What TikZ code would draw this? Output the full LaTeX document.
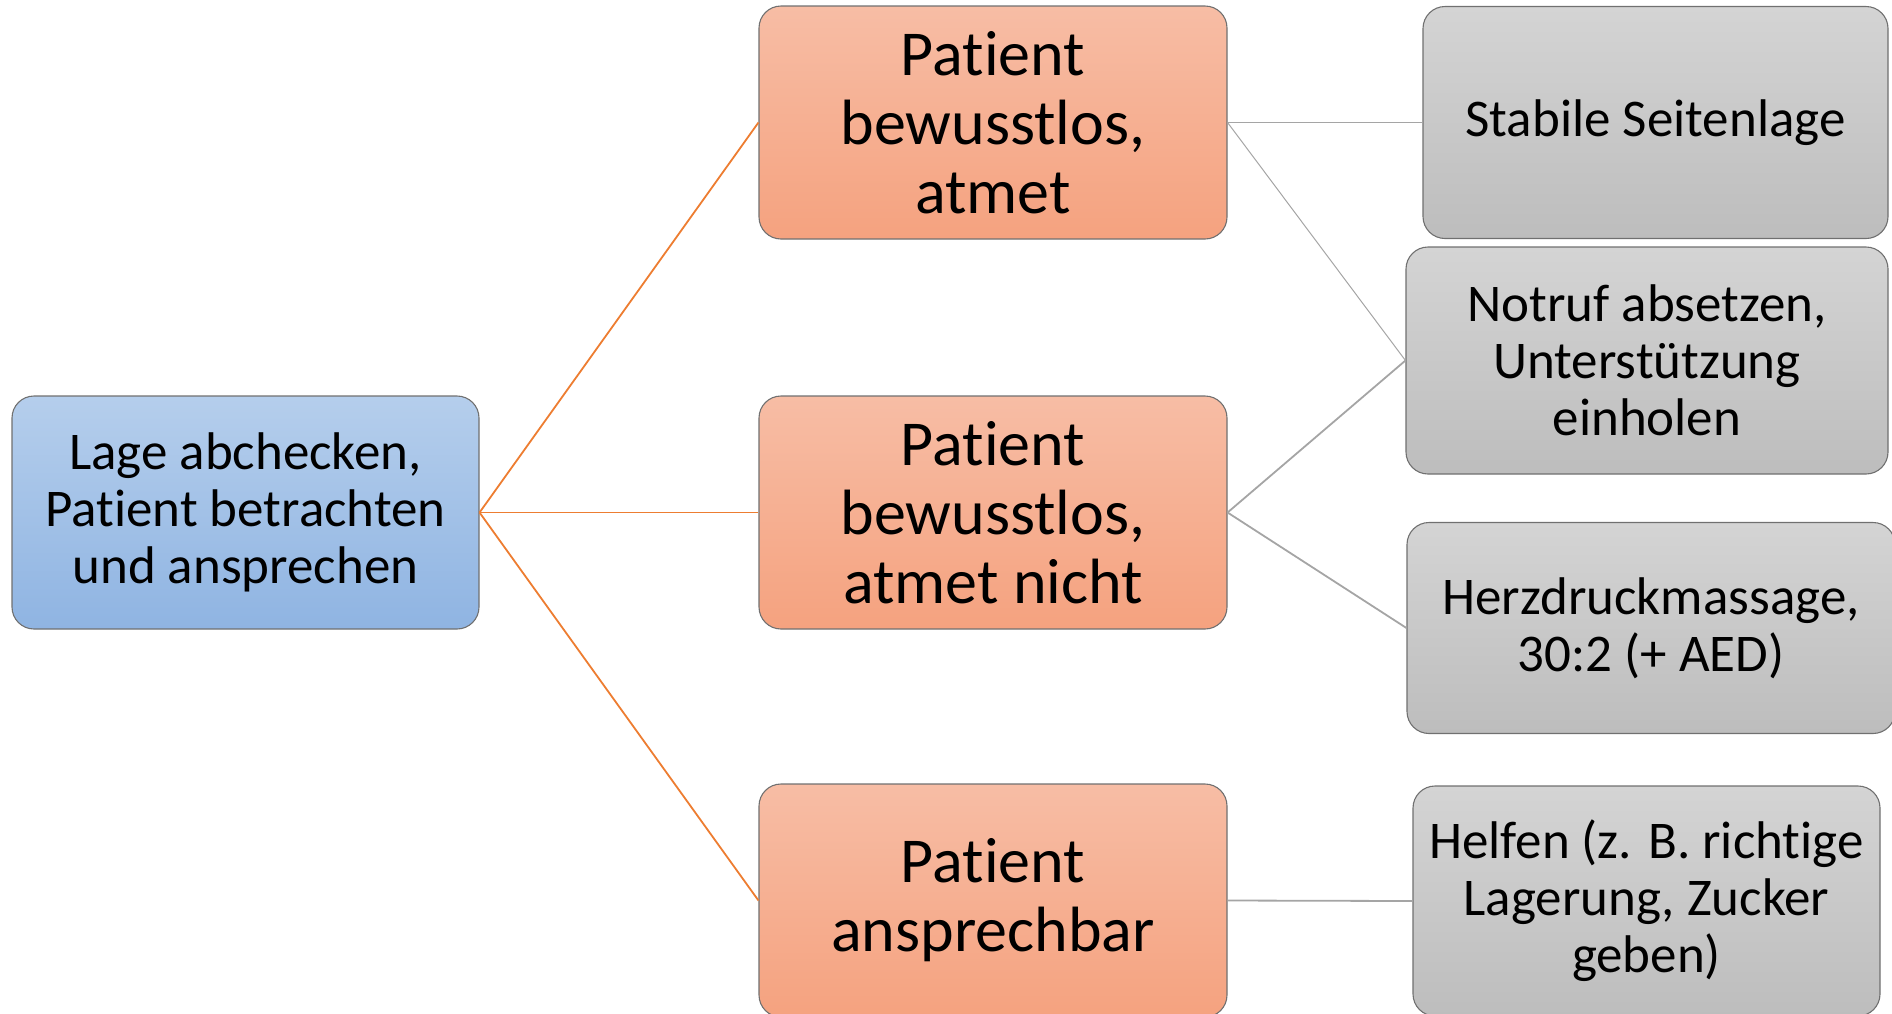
\documentclass[tikz,border=0pt]{standalone}
\usepackage{fontspec}
\setmainfont{Carlito}[Ligatures=NoCommon]
\definecolor{bluetop}{HTML}{B5CEEC}
\definecolor{bluebot}{HTML}{8FB4E2}
\definecolor{ortop}{HTML}{F7BDA5}
\definecolor{orbot}{HTML}{F5A27F}
\definecolor{grtop}{HTML}{D4D4D4}
\definecolor{grbot}{HTML}{BDBDBD}
\definecolor{edge}{HTML}{707070}
\definecolor{orline}{HTML}{ED7D31}
\definecolor{grline}{HTML}{A5A5A5}
\tikzset{
  box/.style={draw=edge, line width=1.1pt, rounded corners=22pt, inner sep=0pt, align=center},
  bluebox/.style={box, top color=bluetop, bottom color=bluebot, font=\fontsize{53}{57}\selectfont},
  orbox/.style={box, top color=ortop, bottom color=orbot, font=\fontsize{64}{69}\selectfont},
  grbox/.style={box, top color=grtop, bottom color=grbot, font=\fontsize{53}{57}\selectfont},
  orconn/.style={draw=orline, line width=1.8pt},
  grconn/.style={draw=grline, line width=1.8pt},
  grthin/.style={draw=grline, line width=1pt}
}
\begin{document}
\begin{tikzpicture}[x=1pt,y=-1pt]
\useasboundingbox (0,0) rectangle (1892,1013);
\node[bluebox, minimum width=467pt, minimum height=233pt] (L) at (245.5,512.5) {Lage abchecken,\\Patient betrachten\\und ansprechen};
\node[orbox, minimum width=468pt, minimum height=233pt] (M1) at (993,122.5) {Patient\\bewusstlos,\\atmet};
\node[orbox, minimum width=468pt, minimum height=233pt] (M2) at (993,512.5) {Patient\\bewusstlos,\\atmet nicht};
\node[orbox, minimum width=468pt, minimum height=233pt] (M3) at (993,900.5) {Patient\\ansprechbar};
\node[grbox, minimum width=465pt, minimum height=232pt] (R1) at (1655.5,122.5) {\raisebox{-3pt}{Stabile Seitenlage}};
\node[grbox, minimum width=482pt, minimum height=227pt] (R2) at (1647,360.5) {Notruf absetzen,\\Unterstützung\\einholen};
\node[grbox, minimum width=488pt, minimum height=211pt] (R3) at (1651,628) {Herzdruckmassage,\\30:2 (+ AED)};
\node[grbox, minimum width=467pt, minimum height=230pt] (R4) at (1646.5,901) {Helfen (z. B. richtige\\Lagerung, Zucker\\geben)};
\draw[orconn] (L.east) -- (M1.west);
\draw[orconn] (L.east) -- (M2.west);
\draw[orconn] (L.east) -- (M3.west);
\draw[grconn] (M1.east) -- (R1.west);
\draw[grthin] (M1.east) -- (R2.west);
\draw[grconn] (M2.east) -- (R2.west);
\draw[grconn] (M2.east) -- (R3.west);
\draw[grconn] (M3.east) -- (R4.west);
\end{tikzpicture}
\end{document}
